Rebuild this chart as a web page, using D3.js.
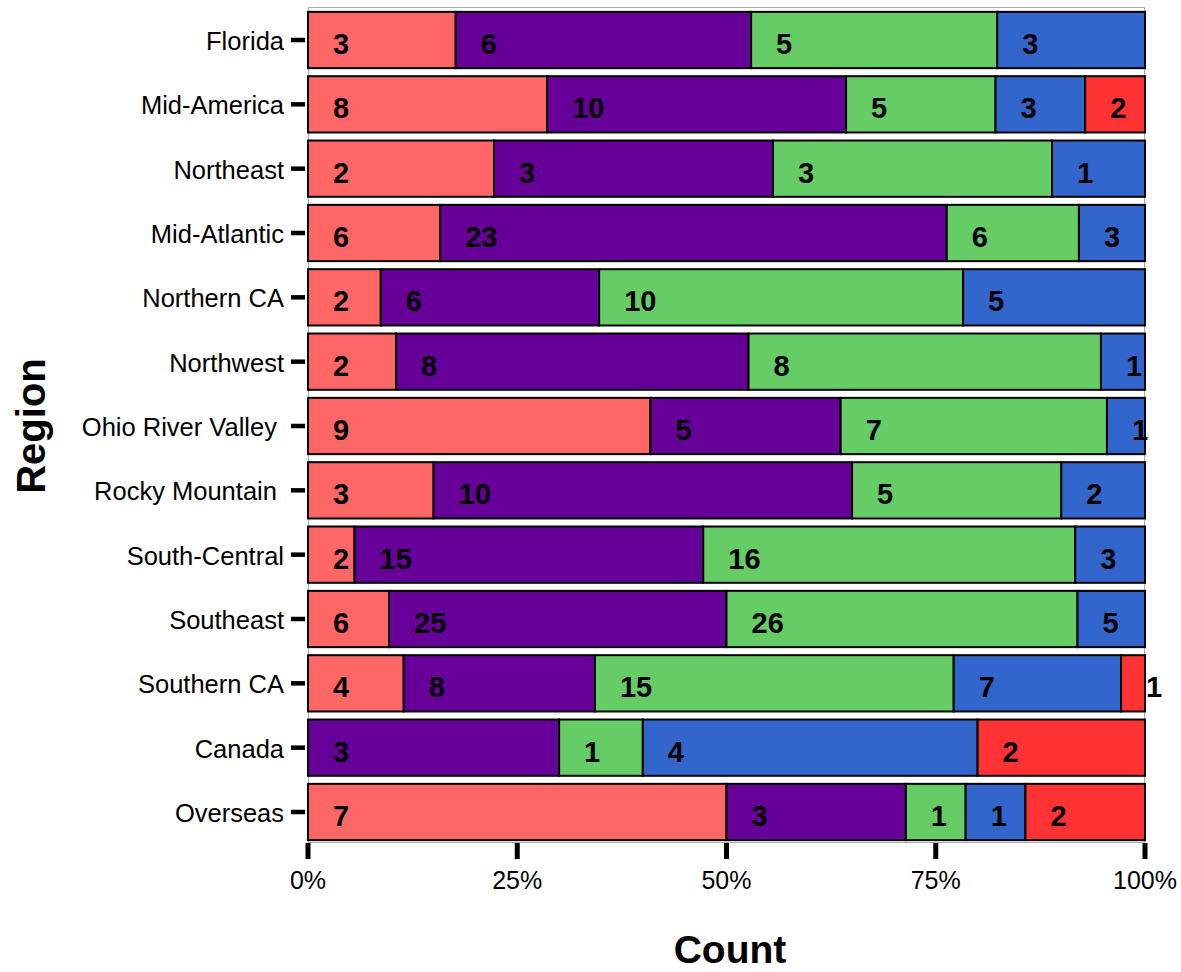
<!DOCTYPE html>
<html>
<head>
<meta charset="utf-8">
<script src="https://cdn.jsdelivr.net/npm/d3@7"></script>
<style>
  html, body { margin: 0; padding: 0; background: #ffffff; }
  svg { display: block; font-family: "Liberation Sans", Arial, sans-serif; }
</style>
</head>
<body>
<svg id="chart" width="1181" height="972"></svg>
<script>
// Data
const regions = ["Florida", "Mid-America", "Northeast", "Mid-Atlantic", "Northern CA", "Northwest",
  "Ohio River Valley ", "Rocky Mountain ", "South-Central", "Southeast", "Southern CA", "Canada", "Overseas"];
const seriesNames = ["S1", "S2", "S3", "S4", "S5"];
const seriesColors = ["#FF6666", "#660099", "#66CC66", "#3366CC", "#FF3333"];
const s1 = [3, 8, 2, 6, 2, 2, 9, 3, 2, 6, 4, 0, 7];
const s2 = [6, 10, 3, 23, 6, 8, 5, 10, 15, 25, 8, 3, 3];
const s3 = [5, 5, 3, 6, 10, 8, 7, 5, 16, 26, 15, 1, 1];
const s4 = [3, 3, 1, 3, 5, 1, 1, 2, 3, 5, 7, 4, 1];
const s5 = [0, 2, 0, 0, 0, 0, 0, 0, 0, 0, 1, 2, 2];
const xTicks = [0, 0.25, 0.5, 0.75, 1];
const xTickLabels = ["0%", "25%", "50%", "75%", "100%"];

const seriesVals = [s1, s2, s3, s4, s5];

const svg = d3.select("#chart");
const pLeft = 308, pRight = 1145, pTop = 7, pBottom = 842;

const x = d3.scaleLinear().domain([0, 1]).range([pLeft, pRight]);
const y = d3.scaleBand().domain(regions).range([8, 844]).paddingInner(0.125).paddingOuter(0.06);

// Panel border
svg.append("rect")
  .attr("x", pLeft + 0.5).attr("y", pTop + 0.5)
  .attr("width", pRight - pLeft - 1).attr("height", pBottom - pTop)
  .attr("fill", "none").attr("stroke", "#aaaaaa").attr("stroke-width", 1);

// Build stacked segments
const segs = [];
regions.forEach((r, i) => {
  const total = d3.sum(seriesVals, s => s[i]);
  let cum = 0;
  seriesVals.forEach((s, k) => {
    const v = s[i];
    if (v > 0) {
      segs.push({ region: r, k, v, x0: cum / total, x1: (cum + v) / total });
    }
    cum += v;
  });
});

const g = svg.append("g");
g.selectAll("rect.seg").data(segs).join("rect")
  .attr("class", "seg")
  .attr("x", d => x(d.x0))
  .attr("width", d => x(d.x1) - x(d.x0))
  .attr("y", d => y(d.region))
  .attr("height", y.bandwidth())
  .attr("fill", d => seriesColors[d.k])
  .attr("stroke", "#000").attr("stroke-width", 2);

g.selectAll("text.val").data(segs).join("text")
  .attr("class", "val")
  .attr("x", d => x(d.x0) + 25)
  .attr("y", d => y(d.region) + y.bandwidth() / 2 + 14)
  .attr("font-size", 29).attr("font-weight", "bold").attr("fill", "#000")
  .text(d => d.v);

// Y axis ticks & labels
const yg = svg.append("g");
yg.selectAll("line").data(regions).join("line")
  .attr("x1", 291).attr("x2", 305)
  .attr("y1", d => y(d) + y.bandwidth() / 2).attr("y2", d => y(d) + y.bandwidth() / 2)
  .attr("stroke", "#000").attr("stroke-width", 4.5);
yg.selectAll("text").data(regions).join("text")
  .attr("x", 284).attr("y", d => y(d) + y.bandwidth() / 2 + 10)
  .attr("text-anchor", "end").attr("font-size", 25.5).attr("fill", "#000")
  .style("white-space", "pre")
  .text(d => d);

// X axis ticks & labels
const xg = svg.append("g");
xg.selectAll("line").data(xTicks).join("line")
  .attr("x1", d => x(d)).attr("x2", d => x(d))
  .attr("y1", 843).attr("y2", 859)
  .attr("stroke", "#000").attr("stroke-width", 5);
xg.selectAll("text").data(xTicks).join("text")
  .attr("x", d => x(d)).attr("y", 889)
  .attr("text-anchor", "middle").attr("font-size", 25).attr("fill", "#000")
  .text((d, i) => xTickLabels[i]);

// Axis titles
svg.append("text")
  .attr("x", 730).attr("y", 963)
  .attr("text-anchor", "middle").attr("font-size", 39).attr("font-weight", "bold")
  .text("Count");
svg.append("text")
  .attr("transform", "translate(45,426) rotate(-90)")
  .attr("text-anchor", "middle").attr("font-size", 40).attr("font-weight", "bold")
  .text("Region");
</script>
</body>
</html>
